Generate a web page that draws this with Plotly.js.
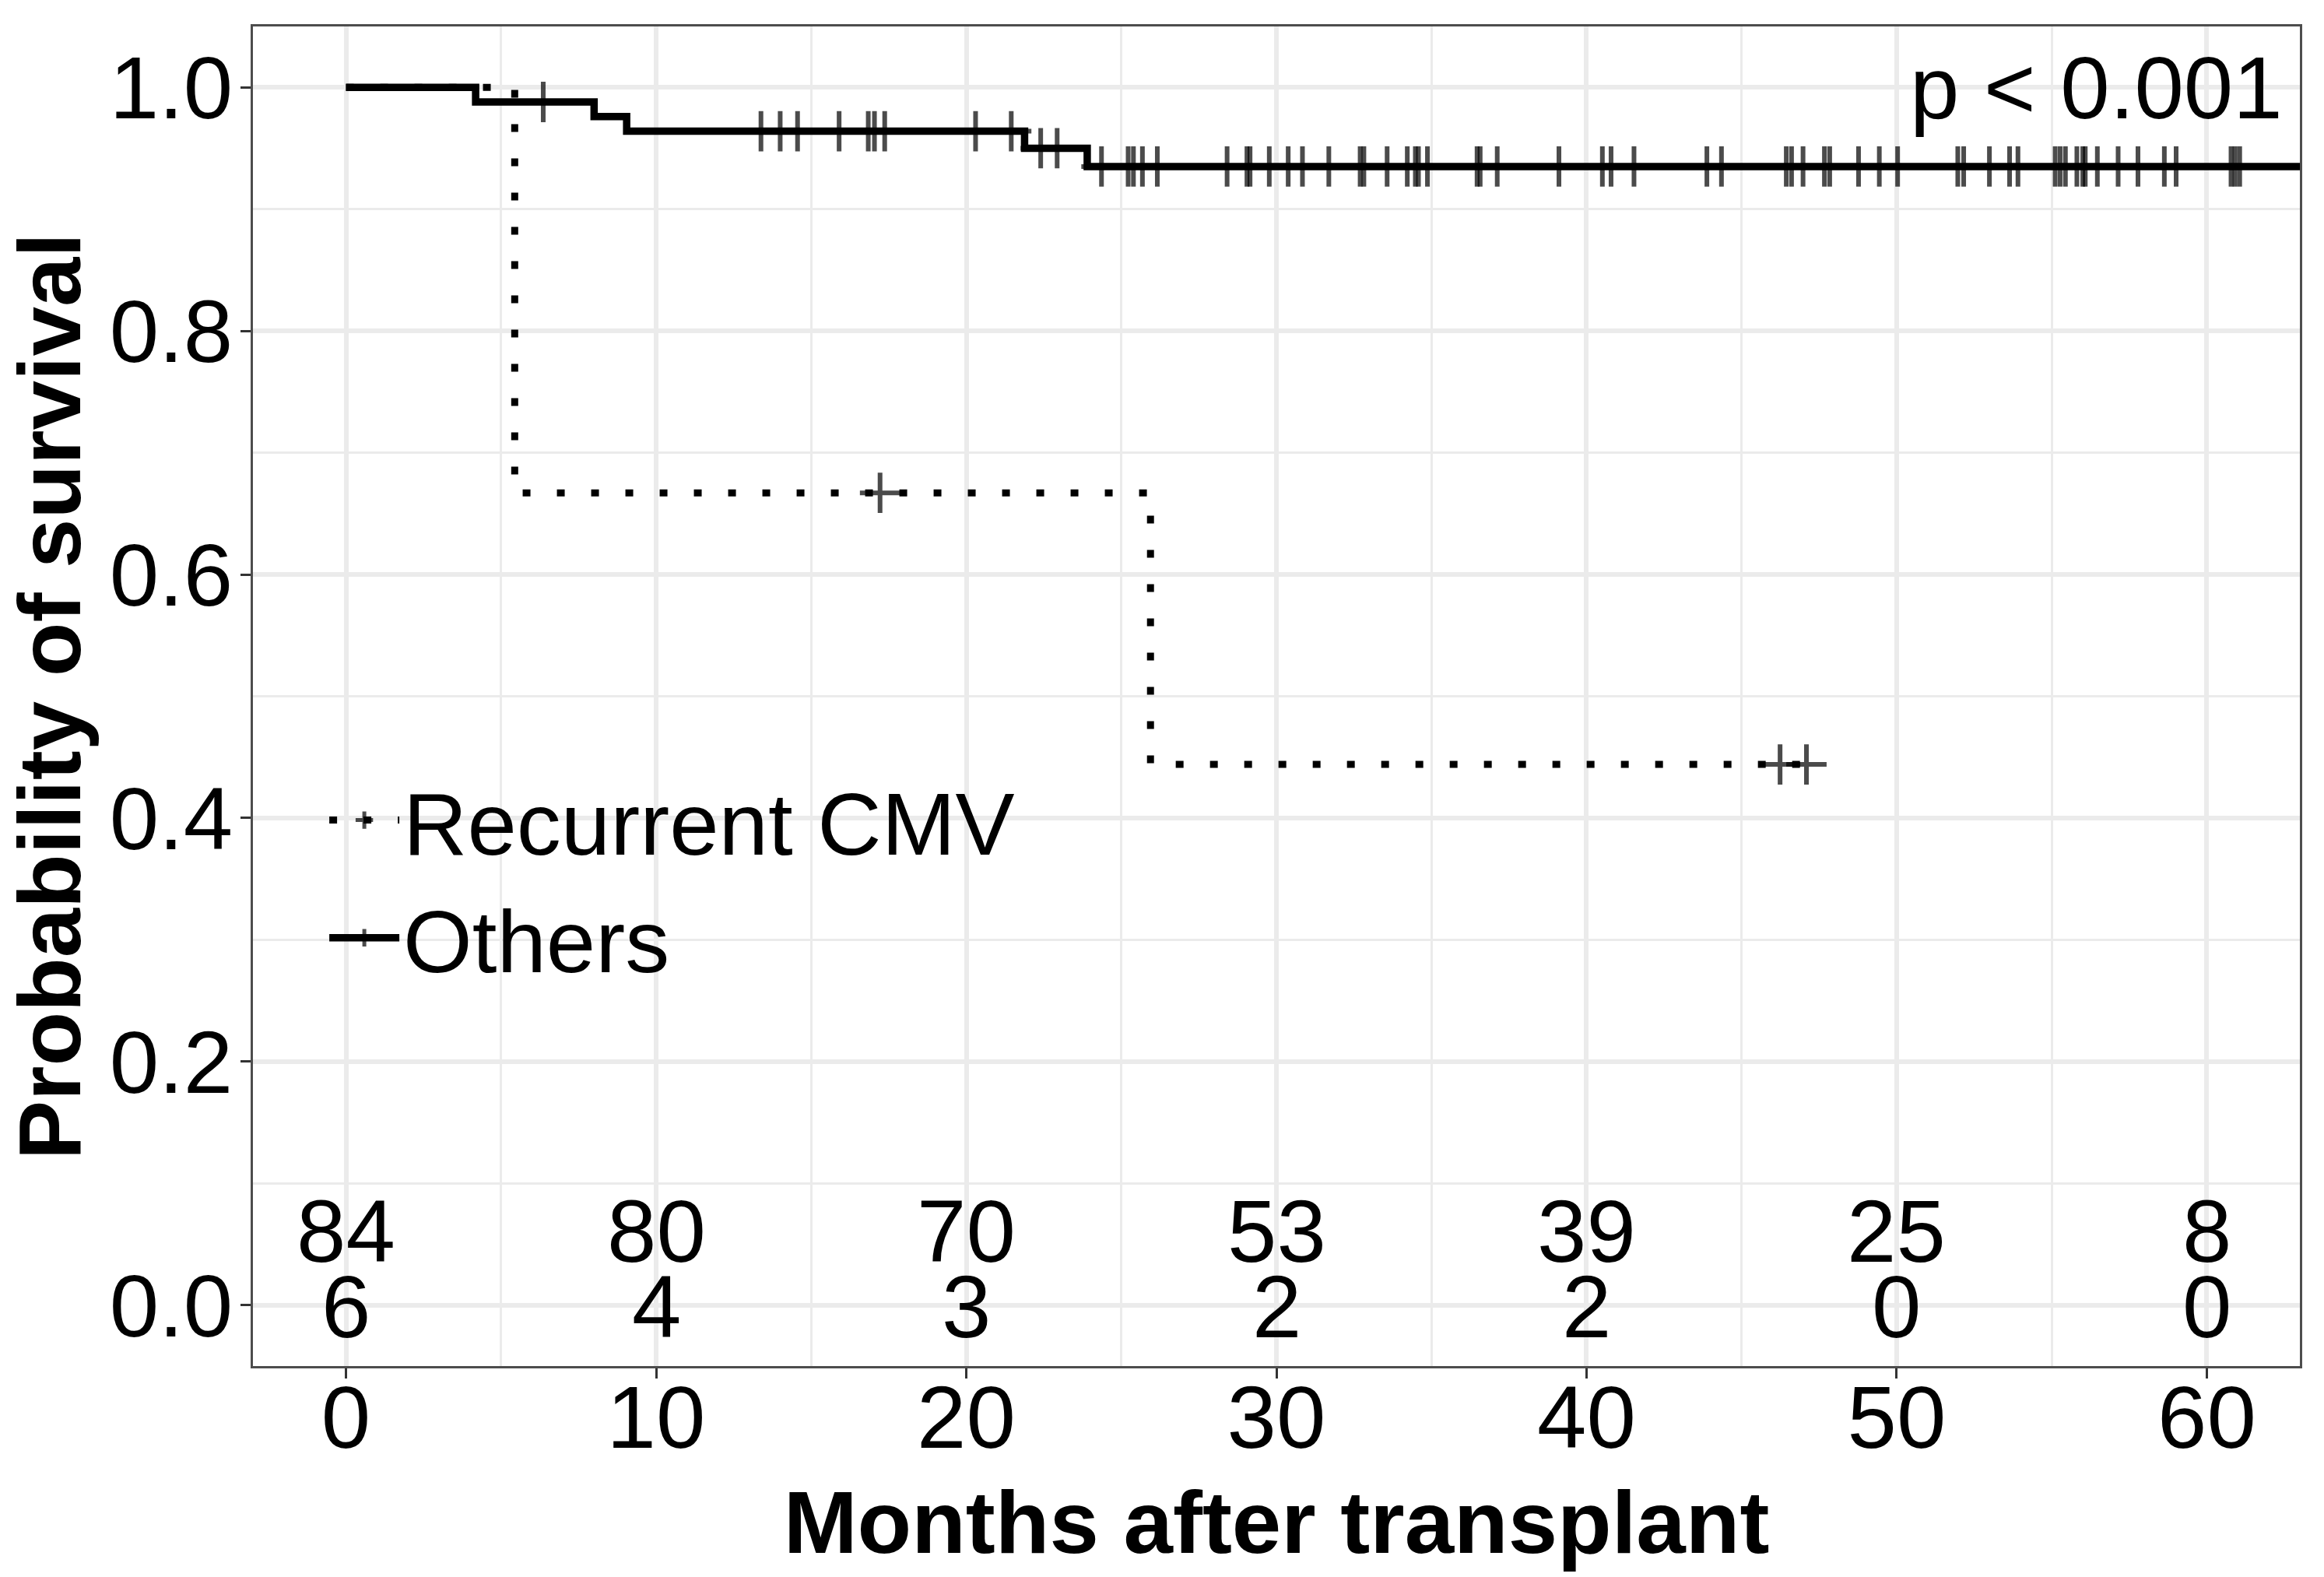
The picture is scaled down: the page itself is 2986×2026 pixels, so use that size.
<!DOCTYPE html>
<html>
<head>
<meta charset="utf-8">
<script src="https://cdn.plot.ly/plotly-3.0.1.min.js"></script>
<style>
html,body{margin:0;padding:0;background:#ffffff;}
#chart{width:2986px;height:2026px;}
</style>
</head>
<body>
<div id="chart"></div>
<script>
// ---------------- data ----------------
const groupNames = ["Recurrent CMV", "Others"];

const recurrentStepTimes = [0, 5.44, 25.94];
const recurrentStepSurv  = [1.0, 0.667, 0.444];
const recurrentCensorTimes = [17.22, 46.24, 47.09];

const othersStepTimes = [0, 4.18, 8.0, 9.05, 21.88, 23.9];
const othersStepSurv  = [1.0, 0.988, 0.976, 0.964, 0.950, 0.935];
const othersCensorTimes = [6.36, 13.38, 14.0, 14.56, 15.9, 16.84, 17.04, 17.37, 20.3, 21.45,
  22.4, 22.93, 24.36, 25.22, 25.39, 25.68, 26.16, 28.41, 29.05, 29.15, 29.77, 30.38, 30.84,
  31.69, 32.7, 32.82, 33.57, 34.22, 34.48, 34.58, 34.87, 36.47, 36.57, 37.12, 39.11, 40.51,
  40.79, 41.53, 43.88, 44.35, 46.44, 46.61, 46.98, 47.67, 47.84, 48.77, 49.44, 50.03, 51.97,
  52.16, 52.99, 53.64, 53.91, 55.11, 55.27, 55.44, 55.81, 56.0, 56.08, 56.47, 57.14, 57.78,
  58.63, 59.01, 60.78, 60.91, 61.06];
const othersLastFollowUp = 64;

const riskTimes = [0, 10, 20, 30, 40, 50, 60];
const riskOthers = [84, 80, 70, 53, 39, 25, 8];
const riskRecurrent = [6, 4, 3, 2, 2, 0, 0];

const pValueText = "p < 0.001";
const xTitleText = "Months after transplant";
const yTitleText = "Probability of survival";

// ---------------- styling constants ----------------
const FONT = "Liberation Sans, Arial, Helvetica, sans-serif";
const FS = 114;
const CENSOR_SIZE = 37;
const riskRowOthersY = 0.0607;
const riskRowRecurrentY = -0.001;

function survAt(times, surv, t) {
  let s = surv[0];
  for (let i = 0; i < times.length; i++) { if (times[i] <= t) s = surv[i]; }
  return s;
}

function buildCurve(stepT, stepS, censT, endT) {
  const pts = stepT.map((t, i) => ({ t: t, s: stepS[i], c: false, o: 0 }));
  censT.forEach(t => pts.push({ t: t, s: survAt(stepT, stepS, t), c: true, o: 1 }));
  if (endT !== null) pts.push({ t: endT, s: survAt(stepT, stepS, endT), c: false, o: 2 });
  pts.sort((a, b) => (a.t - b.t) || (a.o - b.o));
  return {
    x: pts.map(p => p.t),
    y: pts.map(p => p.s),
    size: pts.map(p => p.c ? CENSOR_SIZE : 0)
  };
}

const rec = buildCurve(recurrentStepTimes, recurrentStepSurv, recurrentCensorTimes, null);
const oth = buildCurve(othersStepTimes, othersStepSurv, othersCensorTimes, othersLastFollowUp);

const traces = [
  {
    name: groupNames[0], x: rec.x, y: rec.y, type: "scatter", mode: "lines+markers",
    line: { shape: "hv", color: "#000000", width: 9, dash: "10px,34px" },
    marker: { symbol: "cross-thin", size: rec.size, color: "#000000", line: { color: "#000000", width: 6 } },
    hoverinfo: "skip"
  },
  {
    name: groupNames[1], x: oth.x, y: oth.y, type: "scatter", mode: "lines+markers",
    line: { shape: "hv", color: "#000000", width: 9.5 },
    marker: { symbol: "cross-thin", size: oth.size, color: "#000000", line: { color: "#000000", width: 6 } },
    hoverinfo: "skip"
  }
];

const annotations = [];
riskTimes.forEach((t, i) => {
  annotations.push({ x: t, y: riskRowOthersY, xref: "x", yref: "y", text: String(riskOthers[i]),
    showarrow: false, xanchor: "center", yanchor: "middle", font: { family: FONT, size: FS, color: "#000" } });
  annotations.push({ x: t, y: riskRowRecurrentY, xref: "x", yref: "y", text: String(riskRecurrent[i]),
    showarrow: false, xanchor: "center", yanchor: "middle", font: { family: FONT, size: FS, color: "#000" } });
});
annotations.push({ x: 0.9925, y: 1.0, xref: "paper", yref: "y", text: pValueText, showarrow: false,
  xanchor: "right", yanchor: "middle", font: { family: FONT, size: FS, color: "#000" } });

const axisCommon = {
  ticks: "outside", ticklen: 13, tickwidth: 3, tickcolor: "#333333",
  showline: true, mirror: true, linecolor: "#4d4d4d", linewidth: 3,
  showgrid: true, gridcolor: "#ebebeb", gridwidth: 6,
  zeroline: false, automargin: false,
  tickfont: { family: FONT, size: FS, color: "#000" }
};

const layout = {
  width: 2986, height: 2026,
  margin: { l: 325, r: 31, t: 34, b: 271, pad: 0 },
  paper_bgcolor: "#ffffff", plot_bgcolor: "#ffffff",
  font: { family: FONT, size: FS, color: "#000" },
  showlegend: true,
  legend: {
    x: 0.0354, y: 0.4544, xanchor: "left", yanchor: "top",
    bgcolor: "rgba(0,0,0,0)", borderwidth: 0,
    font: { family: FONT, size: FS, color: "#000" },
    itemwidth: 90, tracegroupgap: 0, traceorder: "normal"
  },
  xaxis: Object.assign({}, axisCommon, {
    range: [-3, 63], tickmode: "linear", tick0: 0, dtick: 10,
    ticklabelstandoff: -48,
    minor: { tickmode: "linear", tick0: 0, dtick: 5, showgrid: true, gridcolor: "#ebebeb", gridwidth: 3, ticks: "" },
    title: { text: xTitleText, standoff: 33, font: { family: FONT, size: FS, color: "#000", weight: "bold" } }
  }),
  yaxis: Object.assign({}, axisCommon, {
    range: [-0.05, 1.05], tickmode: "linear", tick0: 0, dtick: 0.2, tickformat: ".1f",
    ticklabelstandoff: -13,
    minor: { tickmode: "linear", tick0: 0, dtick: 0.1, showgrid: true, gridcolor: "#ebebeb", gridwidth: 3, ticks: "" },
    title: { text: yTitleText, standoff: 0, font: { family: FONT, size: FS, color: "#000", weight: "bold" } }
  }),
  annotations: annotations
};

Plotly.newPlot("chart", traces, layout, { displayModeBar: false, staticPlot: true });
</script>
</body>
</html>
